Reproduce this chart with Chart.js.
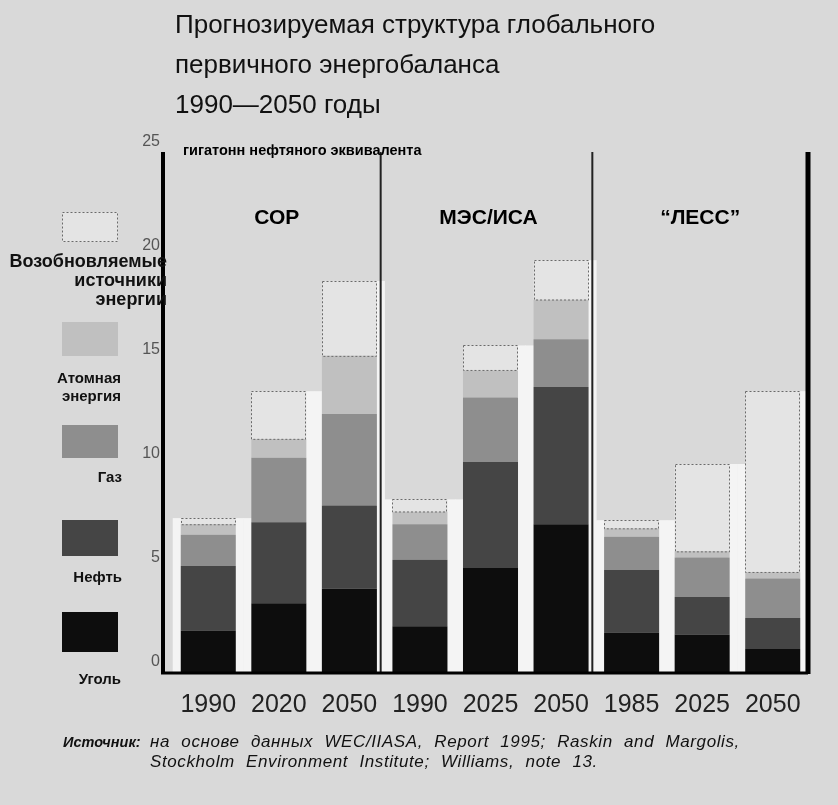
<!DOCTYPE html>
<html>
<head>
<meta charset="utf-8">
<script src="https://cdn.jsdelivr.net/npm/chart.js@4"></script>
<style>
  body { margin:0; background:#d9d9d9; width:838px; height:805px; overflow:hidden; position:relative; font-family:"Liberation Sans", Arial, sans-serif; }
  #chart { position:absolute; left:0; top:0; }
  .title { position:absolute; left:175px; top:4px; font-size:26px; line-height:40px; color:#111; }
  .note { position:absolute; top:732px; font-size:17px; font-style:italic; color:#111; line-height:20px; }
</style>
</head>
<body>
<canvas id="chart" width="838" height="805"></canvas>
<div class="title">Прогнозируемая структура глобального<br>первичного энергобаланса<br>1990—2050 годы</div>
<div class="note" style="left:63px;font-weight:bold;font-size:14.5px;">Источник:</div>
<div class="note" style="left:150px;letter-spacing:0.6px;word-spacing:6px;">на основе данных WEC/IIASA, Report 1995; Raskin and Margolis,<br>Stockholm Environment Institute; Williams, note 13.</div>
<script>
// years under each bar, three scenarios of three bars
const categories = ['1990', '2020', '2050', '1990', '2025', '2050', '1985', '2025', '2050'];
const groups = ['СОР', 'МЭС/ИСА', '“ЛЕСС”'];
const yTicks = [0, 5, 10, 15, 20, 25];

// гигатонн нефтяного эквивалента, layer by layer from the bottom
const coal       = [2.0, 3.3, 4.0, 2.2, 5.0, 7.1, 1.9, 1.8, 1.1];
const oil        = [3.1, 3.9, 4.0, 3.2, 5.1, 6.6, 3.0, 1.8, 1.5];
const gas        = [1.5, 3.1, 4.4, 1.7, 3.1, 2.3, 1.6, 1.9, 1.9];
const nuclear    = [0.5, 0.9, 2.8, 0.6, 1.3, 1.9, 0.4, 0.3, 0.3];
const renewables = [0.3, 2.3, 3.6, 0.6, 1.2, 1.9, 0.4, 4.2, 8.7];

const legendLines = [
  ['Уголь'],
  ['Нефть'],
  ['Газ'],
  ['Атомная', 'энергия'],
  ['Возобновляемые', 'источники', 'энергии']
];

// legend boxes left of the axis (top of swatch, height, label y, label right edge)
const legendBoxes = [
  { top: 612, h: 40, labelY: [680], right: 121 },
  { top: 520, h: 36, labelY: [578], right: 122 },
  { top: 425, h: 33, labelY: [478], right: 122 },
  { top: 322, h: 34, labelY: [379, 397], right: 121 },
  { top: 212, h: 30, labelY: [262, 281, 300], right: 167 }
];

const AXIS_GAP = 10; // left axis line sits a little left of the first category

const decor = {
  id: 'decor',
  beforeDatasetsDraw(chart) {
    // white strips between neighbouring bars, as in the print
    const ctx = chart.ctx;
    const y0 = chart.scales.y.getPixelForValue(0);
    const bars = chart.getDatasetMeta(chart.data.datasets.length - 1).data;
    const tops = bars.map(b => b.y);
    ctx.save();
    ctx.fillStyle = '#f4f4f4';
    bars.forEach((b, i) => {
      const pos = i % 3;
      const lt = pos > 0 ? Math.max(tops[i], tops[i - 1]) : tops[i];
      const rt = pos < 2 ? Math.max(tops[i], tops[i + 1]) : tops[i];
      const half = b.width / 2;
      ctx.fillRect(b.x - half - 8, lt, 9, y0 - lt);
      ctx.fillRect(b.x + half - 1, rt, 9, y0 - rt);
    });
    ctx.restore();
  },
  afterDatasetsDraw(chart) {
    const ctx = chart.ctx;
    const area = chart.chartArea;
    const x = chart.scales.x;
    const y0 = chart.scales.y.getPixelForValue(0);
    ctx.save();
    // dotted outline of the renewables part
    const meta = chart.getDatasetMeta(chart.data.datasets.length - 1);
    ctx.strokeStyle = '#6a6a6a';
    ctx.lineWidth = 1;
    ctx.setLineDash([2, 2]);
    meta.data.forEach(b => {
      ctx.strokeRect(Math.round(b.x - b.width / 2) + 0.5, Math.round(b.y) + 0.5, Math.round(b.width) - 1, b.base - b.y);
    });
    ctx.setLineDash([]);
    // thin lines between scenarios
    ctx.strokeStyle = '#222';
    ctx.lineWidth = 2;
    [2, 5].forEach(i => {
      const px = (x.getPixelForValue(i) + x.getPixelForValue(i + 1)) / 2 - 4;
      ctx.beginPath();
      ctx.moveTo(px, area.top);
      ctx.lineTo(px, area.bottom);
      ctx.stroke();
    });
    // frame: left axis, bottom axis, right edge
    ctx.strokeStyle = '#000';
    ctx.lineWidth = 4;
    ctx.beginPath();
    ctx.moveTo(area.left - AXIS_GAP, area.top);
    ctx.lineTo(area.left - AXIS_GAP, y0 + 1);
    ctx.stroke();
    ctx.lineWidth = 3;
    ctx.beginPath();
    ctx.moveTo(area.left - AXIS_GAP - 2, y0 + 1);
    ctx.lineTo(area.right, y0 + 1);
    ctx.stroke();
    ctx.lineWidth = 5;
    ctx.beginPath();
    ctx.moveTo(area.right, area.top);
    ctx.lineTo(area.right, y0 + 2);
    ctx.stroke();
    // scenario names
    ctx.fillStyle = '#000';
    ctx.font = 'bold 21px "Liberation Sans", Arial, sans-serif';
    ctx.textAlign = 'center';
    ctx.textBaseline = 'middle';
    groups.forEach((g, k) => {
      ctx.fillText(g, x.getPixelForValue(k * 3 + 1) - 2, area.top + 66);
    });
    // unit
    ctx.font = 'bold 14.5px "Liberation Sans", Arial, sans-serif';
    ctx.textAlign = 'left';
    ctx.fillText('гигатонн нефтяного эквивалента', area.left - AXIS_GAP + 20, area.top - 1);
    ctx.restore();
  },
  afterDraw(chart) {
    const ctx = chart.ctx;
    ctx.save();
    ctx.textAlign = 'right';
    ctx.textBaseline = 'middle';
    chart.data.datasets.forEach((ds, i) => {
      const b = legendBoxes[i];
      ctx.fillStyle = ds.backgroundColor;
      ctx.fillRect(62, b.top, 56, b.h);
      if (i === chart.data.datasets.length - 1) {
        ctx.strokeStyle = '#6a6a6a';
        ctx.lineWidth = 1;
        ctx.setLineDash([2, 2]);
        ctx.strokeRect(62.5, b.top + 0.5, 55, b.h - 1);
        ctx.setLineDash([]);
      }
      ctx.fillStyle = '#111';
      ctx.font = (i === 4 ? 'bold 18px' : 'bold 15px') + ' "Liberation Sans", Arial, sans-serif';
      legendLines[i].forEach((line, j) => ctx.fillText(line, b.right, b.labelY[j]));
    });
    ctx.restore();
  }
};

const layer = (label, data, color) => ({
  label: label,
  data: data,
  backgroundColor: color,
  borderWidth: 0,
  categoryPercentage: 1,
  barPercentage: 0.78
});

new Chart(document.getElementById('chart'), {
  type: 'bar',
  data: {
    labels: categories,
    datasets: [
      layer('Уголь', coal, '#0d0d0d'),
      layer('Нефть', oil, '#454545'),
      layer('Газ', gas, '#8e8e8e'),
      layer('Атомная энергия', nuclear, '#c0c0c0'),
      layer('Возобновляемые источники энергии', renewables, '#e4e4e4')
    ]
  },
  options: {
    responsive: false,
    devicePixelRatio: 1,
    animation: false,
    layout: { padding: { left: 143, right: 30, top: 152, bottom: 93 } },
    plugins: { legend: { display: false }, tooltip: { enabled: false } },
    scales: {
      x: {
        stacked: true,
        grid: { display: false, drawTicks: false },
        border: { display: false },
        ticks: { color: '#222', padding: 18, font: { size: 25, family: '"Liberation Sans", Arial, sans-serif' } },
        afterFit: s => { s.height = 40; }
      },
      y: {
        stacked: true,
        min: 0,
        max: 25,
        afterBuildTicks: s => { s.ticks = yTicks.map(v => ({ value: v })); },
        grid: { display: false, drawTicks: false },
        border: { display: false },
        ticks: { color: '#555', padding: 13, labelOffset: -10, font: { size: 16, family: '"Liberation Sans", Arial, sans-serif' } },
        afterFit: s => { s.width = 30; }
      }
    }
  },
  plugins: [decor]
});
</script>
</body>
</html>
